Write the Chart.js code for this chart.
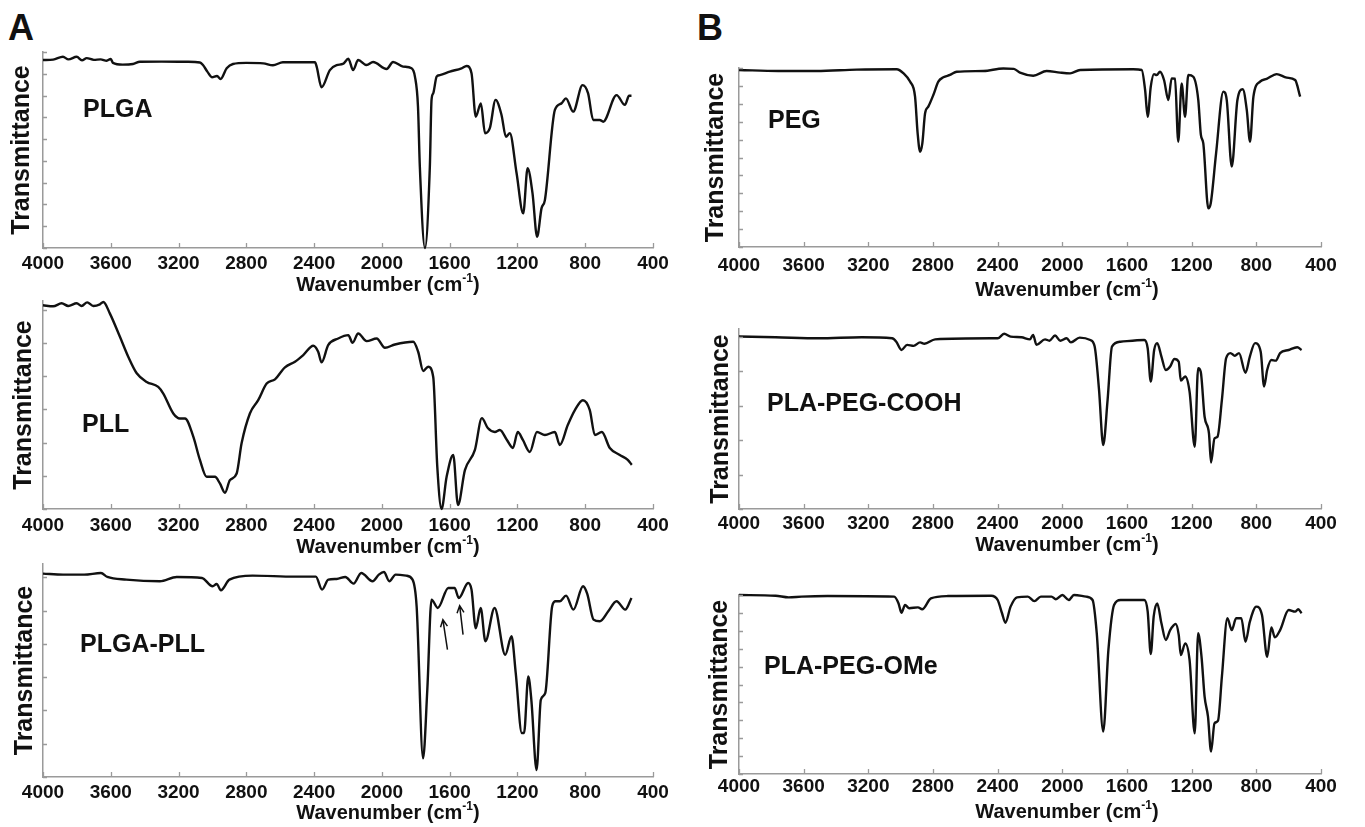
<!DOCTYPE html>
<html>
<head>
<meta charset="utf-8">
<script src="https://cdn.jsdelivr.net/npm/chart.js@4.4.1/dist/chart.umd.min.js"></script>
<style>
  body { margin: 0; background: #fff; }
  #page { position: relative; width: 1365px; height: 827px; overflow: hidden; }
  canvas { position: absolute; left: 0; top: 0; }
  .letter { position: absolute; font: bold 36px "Liberation Sans", Arial, sans-serif; color: #111; }
</style>
</head>
<body>
<div id="page">
  <div class="letter" style="left:8px; top:7px;">A</div>
  <div class="letter" style="left:697px; top:7px;">B</div>
  <canvas id="plga" width="1365" height="827"></canvas>
  <canvas id="pll" width="1365" height="827"></canvas>
  <canvas id="plgapll" width="1365" height="827"></canvas>
  <canvas id="peg" width="1365" height="827"></canvas>
  <canvas id="cooh" width="1365" height="827"></canvas>
  <canvas id="ome" width="1365" height="827"></canvas>
</div>
<script>
// x axis ticks (cm-1), shared by all six spectra
const waveTicks = [4000, 3600, 3200, 2800, 2400, 2000, 1600, 1200, 800, 400];
// unlabeled y ticks (transmittance, arbitrary units)
const ySteps5 = [0, 1, 2, 3, 4, 5];
const ySteps6 = [0, 1, 2, 3, 4, 5, 6];
const ySteps9 = [0, 1, 2, 3, 4, 5, 6, 7, 8, 9];
const ySteps10 = [0, 1, 2, 3, 4, 5, 6, 7, 8, 9, 10];

// PLGA
const plgaWave = [4000, 3940, 3882, 3850, 3801, 3770, 3742, 3700, 3660, 3624, 3600, 3587, 3530, 3469, 3428, 3300, 3150, 3074, 3056, 3030, 3003, 2973, 2952, 2916, 2879, 2800, 2700, 2643, 2584, 2395, 2385, 2356, 2307, 2267, 2230, 2198, 2170, 2140, 2090, 2052, 1972, 1934, 1875, 1825, 1805, 1787, 1776, 1746, 1717, 1707, 1697, 1677, 1658, 1599, 1530, 1500, 1471, 1446, 1416, 1391, 1363, 1329, 1294, 1268, 1245, 1205, 1166, 1140, 1111, 1084, 1058, 1038, 979, 940, 914, 871, 816, 783, 753, 714, 694, 615, 566, 541, 527];
const plgaT = [8.63, 8.65, 8.78, 8.66, 8.78, 8.62, 8.72, 8.64, 8.66, 8.60, 8.68, 8.50, 8.42, 8.45, 8.55, 8.56, 8.55, 8.52, 8.40, 8.10, 7.84, 7.90, 7.76, 8.25, 8.45, 8.50, 8.48, 8.39, 8.53, 8.53, 8.33, 7.38, 8.17, 8.40, 8.45, 8.69, 8.17, 8.63, 8.40, 8.54, 8.22, 8.54, 8.33, 8.25, 7.87, 6.50, 3.73, 0.00, 3.73, 6.80, 7.10, 7.87, 7.94, 8.10, 8.25, 8.36, 8.02, 6.03, 6.64, 5.27, 5.50, 6.80, 6.11, 5.11, 5.27, 3.43, 1.59, 3.66, 2.51, 0.52, 1.82, 2.20, 6.34, 6.64, 6.87, 6.26, 7.48, 7.10, 5.88, 5.88, 5.80, 7.02, 6.57, 6.99, 6.99];

// PLL
const pllWave = [4000, 3940, 3890, 3851, 3801, 3772, 3739, 3703, 3664, 3644, 3605, 3546, 3497, 3447, 3388, 3320, 3290, 3231, 3192, 3162, 3113, 3074, 3034, 2985, 2956, 2926, 2897, 2857, 2828, 2779, 2730, 2680, 2631, 2572, 2513, 2464, 2405, 2376, 2356, 2317, 2258, 2198, 2173, 2140, 2090, 2031, 1982, 1923, 1815, 1786, 1756, 1727, 1697, 1673, 1648, 1618, 1579, 1551, 1510, 1451, 1410, 1375, 1333, 1304, 1262, 1227, 1198, 1168, 1127, 1085, 1038, 979, 950, 903, 861, 814, 773, 743, 702, 655, 596, 549, 525];
const pllT = [6.14, 6.11, 6.20, 6.12, 6.20, 6.12, 6.23, 6.12, 6.17, 6.24, 5.89, 5.19, 4.59, 4.09, 3.83, 3.68, 3.48, 2.88, 2.73, 2.73, 2.18, 1.48, 0.97, 0.97, 0.77, 0.49, 0.87, 1.07, 1.98, 2.88, 3.28, 3.78, 3.91, 4.27, 4.44, 4.64, 4.92, 4.74, 4.42, 4.94, 5.14, 5.24, 5.01, 5.29, 5.06, 5.14, 4.86, 4.96, 5.04, 4.74, 4.16, 4.29, 3.98, 1.27, 0.00, 0.97, 1.63, 0.12, 1.17, 1.78, 2.74, 2.44, 2.32, 2.38, 2.08, 1.84, 2.32, 2.08, 1.72, 2.32, 2.23, 2.32, 1.93, 2.53, 2.98, 3.28, 2.98, 2.23, 2.32, 1.84, 1.63, 1.48, 1.33];

// PLGA-PLL
const plgaPllWave = [4000, 3881, 3757, 3658, 3620, 3508, 3310, 3211, 3062, 2999, 2975, 2950, 2900, 2763, 2515, 2390, 2353, 2316, 2267, 2216, 2167, 2122, 2055, 2018, 1988, 1956, 1919, 1857, 1819, 1795, 1757, 1732, 1707, 1670, 1608, 1571, 1546, 1491, 1471, 1446, 1417, 1389, 1335, 1272, 1235, 1210, 1174, 1161, 1136, 1118, 1087, 1062, 1036, 995, 975, 950, 913, 870, 813, 788, 751, 714, 664, 615, 564, 527];
const plgaPllT = [6.11, 6.08, 6.08, 6.13, 6.01, 5.93, 5.88, 6.01, 5.98, 5.73, 5.80, 5.61, 5.93, 6.05, 6.02, 6.02, 5.63, 5.93, 5.95, 6.01, 5.81, 6.13, 5.88, 6.08, 6.16, 5.88, 6.08, 6.05, 5.93, 5.13, 0.56, 2.62, 5.33, 5.08, 5.68, 5.68, 5.38, 5.83, 5.63, 4.47, 5.08, 4.08, 5.08, 3.67, 4.23, 3.12, 1.32, 1.32, 3.02, 2.32, 0.21, 2.32, 2.52, 5.13, 5.28, 5.28, 5.45, 5.03, 5.73, 5.50, 4.73, 4.68, 4.98, 5.28, 5.03, 5.38];
// arrows marking the amide bands: tail and head (cm-1, transmittance)
const arrowTail = [[1613, 3.83], [1521, 4.28]];
const arrowHead = [[1640, 4.73], [1541, 5.15]];

// PEG
const pegWave = [4000, 3757, 3520, 3272, 3025, 2982, 2942, 2911, 2895, 2880, 2866, 2849, 2829, 2798, 2767, 2736, 2695, 2653, 2488, 2365, 2300, 2262, 2180, 2097, 2014, 1952, 1890, 1561, 1509, 1488, 1472, 1453, 1433, 1416, 1396, 1371, 1344, 1324, 1303, 1283, 1262, 1241, 1221, 1190, 1159, 1143, 1128, 1097, 1082, 1049, 1004, 983, 952, 917, 884, 859, 839, 818, 777, 736, 674, 612, 560, 529];
const pegT = [9.89, 9.83, 9.83, 9.91, 9.93, 9.70, 9.24, 8.40, 6.35, 5.32, 5.79, 7.47, 7.84, 8.49, 9.24, 9.48, 9.61, 9.79, 9.83, 9.97, 9.95, 9.74, 9.57, 9.83, 9.74, 9.70, 9.89, 9.93, 9.89, 8.77, 7.28, 8.96, 9.66, 9.60, 9.79, 9.33, 8.21, 9.42, 9.40, 5.88, 9.14, 7.28, 9.61, 9.51, 8.21, 6.26, 5.79, 2.16, 2.44, 5.23, 8.68, 8.21, 4.49, 8.21, 8.81, 7.65, 5.88, 8.40, 9.24, 9.39, 9.66, 9.46, 9.33, 8.40];

// PLA-PEG-COOH
const coohWave = [4000, 3773, 3507, 3240, 3053, 3027, 2995, 2960, 2920, 2880, 2853, 2787, 2440, 2400, 2360, 2320, 2253, 2200, 2181, 2160, 2107, 2080, 2045, 2013, 1973, 1947, 1893, 1827, 1800, 1773, 1747, 1720, 1693, 1640, 1493, 1472, 1453, 1432, 1413, 1387, 1360, 1333, 1307, 1280, 1267, 1240, 1213, 1181, 1160, 1144, 1120, 1093, 1080, 1059, 1040, 1013, 987, 960, 933, 907, 867, 840, 808, 773, 752, 733, 707, 680, 653, 600, 547, 520];
const coohT = [5.01, 4.99, 4.96, 4.99, 4.96, 4.86, 4.62, 4.77, 4.74, 4.84, 4.80, 4.93, 4.96, 4.96, 5.09, 5.01, 4.99, 4.93, 5.06, 4.77, 4.93, 4.89, 5.04, 4.89, 4.96, 4.84, 4.98, 4.91, 4.72, 3.46, 1.86, 3.17, 4.72, 4.86, 4.91, 4.67, 3.70, 4.62, 4.82, 4.43, 4.04, 4.14, 4.36, 4.28, 3.73, 3.85, 3.41, 1.81, 4.09, 3.99, 2.68, 2.20, 1.35, 2.05, 2.10, 3.17, 4.38, 4.53, 4.45, 4.53, 3.96, 4.43, 4.82, 4.57, 3.56, 4.04, 4.33, 4.31, 4.53, 4.62, 4.70, 4.62];

// PLA-PEG-OMe
const omeWave = [4000, 3773, 3693, 3613, 3453, 3040, 3013, 2995, 2973, 2947, 2893, 2867, 2813, 2707, 2440, 2400, 2373, 2352, 2320, 2280, 2213, 2173, 2133, 2067, 2040, 2000, 1960, 1928, 1853, 1813, 1787, 1747, 1715, 1680, 1640, 1493, 1472, 1453, 1435, 1413, 1387, 1360, 1333, 1299, 1280, 1267, 1240, 1213, 1181, 1160, 1139, 1120, 1099, 1080, 1059, 1037, 1013, 979, 952, 925, 893, 867, 840, 800, 765, 733, 707, 685, 653, 600, 560, 541, 520];
const omeT = [10.0, 9.96, 9.87, 9.91, 9.94, 9.91, 9.53, 9.01, 9.44, 9.26, 9.31, 9.20, 9.81, 9.94, 9.96, 9.72, 8.98, 8.45, 9.35, 9.87, 9.91, 9.66, 9.91, 9.91, 9.76, 10.0, 9.72, 10.0, 9.91, 9.72, 7.86, 2.37, 6.93, 9.44, 9.72, 9.72, 9.07, 6.70, 8.79, 9.53, 8.42, 7.49, 8.04, 8.38, 7.77, 6.65, 7.30, 6.37, 2.27, 7.86, 6.55, 4.32, 3.20, 1.25, 2.83, 2.98, 5.44, 8.70, 8.04, 8.70, 8.70, 7.39, 8.51, 9.35, 8.88, 6.55, 8.19, 7.63, 8.04, 9.16, 9.07, 9.20, 8.98];

const FONT = '"Liberation Sans", Arial, sans-serif';
const INK = '#111111';
const AXIS_GREY = '#9a9a9a';
Chart.defaults.font.family = FONT;

// inner tick marks, sample name, x title with superscript, arrows
function decor(cfg) {
  return {
    id: 'decor',
    afterDraw(chart) {
      const { ctx, chartArea: a, scales } = chart;
      const xs = scales.x, ys = scales.y;
      ctx.save();
      ctx.strokeStyle = AXIS_GREY;
      ctx.lineWidth = 1.3;
      ctx.beginPath();
      xs.ticks.forEach(t => {
        const px = Math.round(xs.getPixelForValue(t.value)) + 0.5;
        ctx.moveTo(px, a.bottom);
        ctx.lineTo(px, a.bottom - 5);
      });
      ys.ticks.forEach(t => {
        const py = Math.round(ys.getPixelForValue(t.value)) + 0.5;
        ctx.moveTo(a.left, py);
        ctx.lineTo(a.left + 4, py);
      });
      ctx.stroke();

      ctx.fillStyle = INK;
      ctx.textBaseline = 'middle';
      ctx.textAlign = 'left';
      ctx.font = 'bold 25px ' + FONT;
      ctx.fillText(cfg.name, a.left + cfg.nameDx, a.top + cfg.nameDy);

      // Wavenumber (cm-1)
      const big = 'bold 20px ' + FONT, small = 'bold 12px ' + FONT;
      ctx.font = big;
      const w1 = ctx.measureText('Wavenumber (cm').width;
      const w3 = ctx.measureText(')').width;
      ctx.font = small;
      const w2 = ctx.measureText('-1').width;
      const x0 = (a.left + a.right) / 2 + cfg.titleDx - (w1 + w2 + w3) / 2;
      const ty = a.bottom + cfg.titleDy;
      ctx.font = big;
      ctx.fillText('Wavenumber (cm', x0, ty);
      ctx.font = small;
      ctx.fillText('-1', x0 + w1, ty - 6);
      ctx.font = big;
      ctx.fillText(')', x0 + w1 + w2, ty);

      if (cfg.arrows) {
        ctx.strokeStyle = INK;
        ctx.lineWidth = 1.5;
        cfg.arrows.tail.forEach((tail, i) => {
          const head = cfg.arrows.head[i];
          const x1 = xs.getPixelForValue(tail[0]), y1 = ys.getPixelForValue(tail[1]);
          const x2 = xs.getPixelForValue(head[0]), y2 = ys.getPixelForValue(head[1]);
          const ang = Math.atan2(y2 - y1, x2 - x1);
          ctx.beginPath();
          ctx.moveTo(x1, y1);
          ctx.lineTo(x2, y2);
          ctx.moveTo(x2 - 8 * Math.cos(ang - 0.45), y2 - 8 * Math.sin(ang - 0.45));
          ctx.lineTo(x2, y2);
          ctx.lineTo(x2 - 8 * Math.cos(ang + 0.45), y2 - 8 * Math.sin(ang + 0.45));
          ctx.stroke();
        });
      }
      ctx.restore();
    }
  };
}

function drawPanel(id, cfg) {
  const [left, top, right, bottom] = cfg.box;
  new Chart(document.getElementById(id), {
    type: 'line',
    data: {
      datasets: [{
        data: cfg.wave.map((w, i) => ({ x: w, y: cfg.trans[i] })),
        borderColor: INK,
        borderWidth: 2.4,
        pointRadius: 0,
        cubicInterpolationMode: 'monotone',
        fill: false,
        clip: false
      }]
    },
    options: {
      responsive: false,
      animation: false,
      events: [],
      layout: { padding: { left: left - cfg.yw, top: top, right: 1365 - right, bottom: 827 - bottom - 60 } },
      scales: {
        x: {
          type: 'linear', reverse: true, min: 400, max: 4000,
          afterBuildTicks: s => { s.ticks = waveTicks.map(v => ({ value: v })); },
          afterFit: s => { s.height = 60; s.paddingLeft = 0; s.paddingRight = 0; },
          ticks: { font: { size: 19, weight: 'bold' }, color: INK, padding: cfg.tickPad, maxRotation: 0, autoSkip: false, callback: v => String(v) },
          grid: { display: false, drawTicks: false },
          border: { display: true, color: AXIS_GREY, width: 1.5 }
        },
        y: {
          min: 0, max: cfg.yMax,
          afterBuildTicks: s => { s.ticks = cfg.yTicks.map(v => ({ value: v })); },
          afterFit: s => { s.width = cfg.yw; },
          ticks: { display: false },
          grid: { display: false, drawTicks: false },
          border: { display: true, color: AXIS_GREY, width: 1.5 },
          title: { display: true, text: 'Transmittance', color: INK, font: { size: 25, weight: 'bold' }, padding: 0 }
        }
      },
      plugins: { legend: { display: false }, tooltip: { enabled: false } }
    },
    plugins: [decor(cfg)]
  });
}

drawPanel('plga', { wave: plgaWave, trans: plgaT, name: 'PLGA', box: [43, 52, 653, 248], yMax: 9, yTicks: ySteps9, yw: 36, tickPad: 4, titleDx: 40, titleDy: 37, nameDx: 40, nameDy: 58 });
drawPanel('pll', { wave: pllWave, trans: pllT, name: 'PLL', box: [43, 301, 653, 509], yMax: 6.27, yTicks: ySteps6, yw: 34, tickPad: 5, titleDx: 40, titleDy: 38, nameDx: 39, nameDy: 124 });
drawPanel('plgapll', { wave: plgaPllWave, trans: plgaPllT, name: 'PLGA-PLL', box: [43, 564, 653, 777], yMax: 6.4, yTicks: ySteps6, yw: 33, tickPad: 4.5, titleDx: 40, titleDy: 36, nameDx: 37, nameDy: 81, arrows: { tail: arrowTail, head: arrowHead } });
drawPanel('peg', { wave: pegWave, trans: pegT, name: 'PEG', box: [739, 68, 1321, 247], yMax: 10, yTicks: ySteps10, yw: 38, tickPad: 7.5, titleDx: 37, titleDy: 43, nameDx: 29, nameDy: 53 });
drawPanel('cooh', { wave: coohWave, trans: coohT, name: 'PLA-PEG-COOH', box: [739, 329, 1321, 509], yMax: 5.23, yTicks: ySteps5, yw: 33, tickPad: 3, titleDx: 37, titleDy: 36, nameDx: 28, nameDy: 75 });
drawPanel('ome', { wave: omeWave, trans: omeT, name: 'PLA-PEG-OMe', box: [739, 595, 1321, 774], yMax: 10, yTicks: ySteps10, yw: 34, tickPad: 1, titleDx: 37, titleDy: 38, nameDx: 25, nameDy: 72 });
</script>
</body>
</html>
